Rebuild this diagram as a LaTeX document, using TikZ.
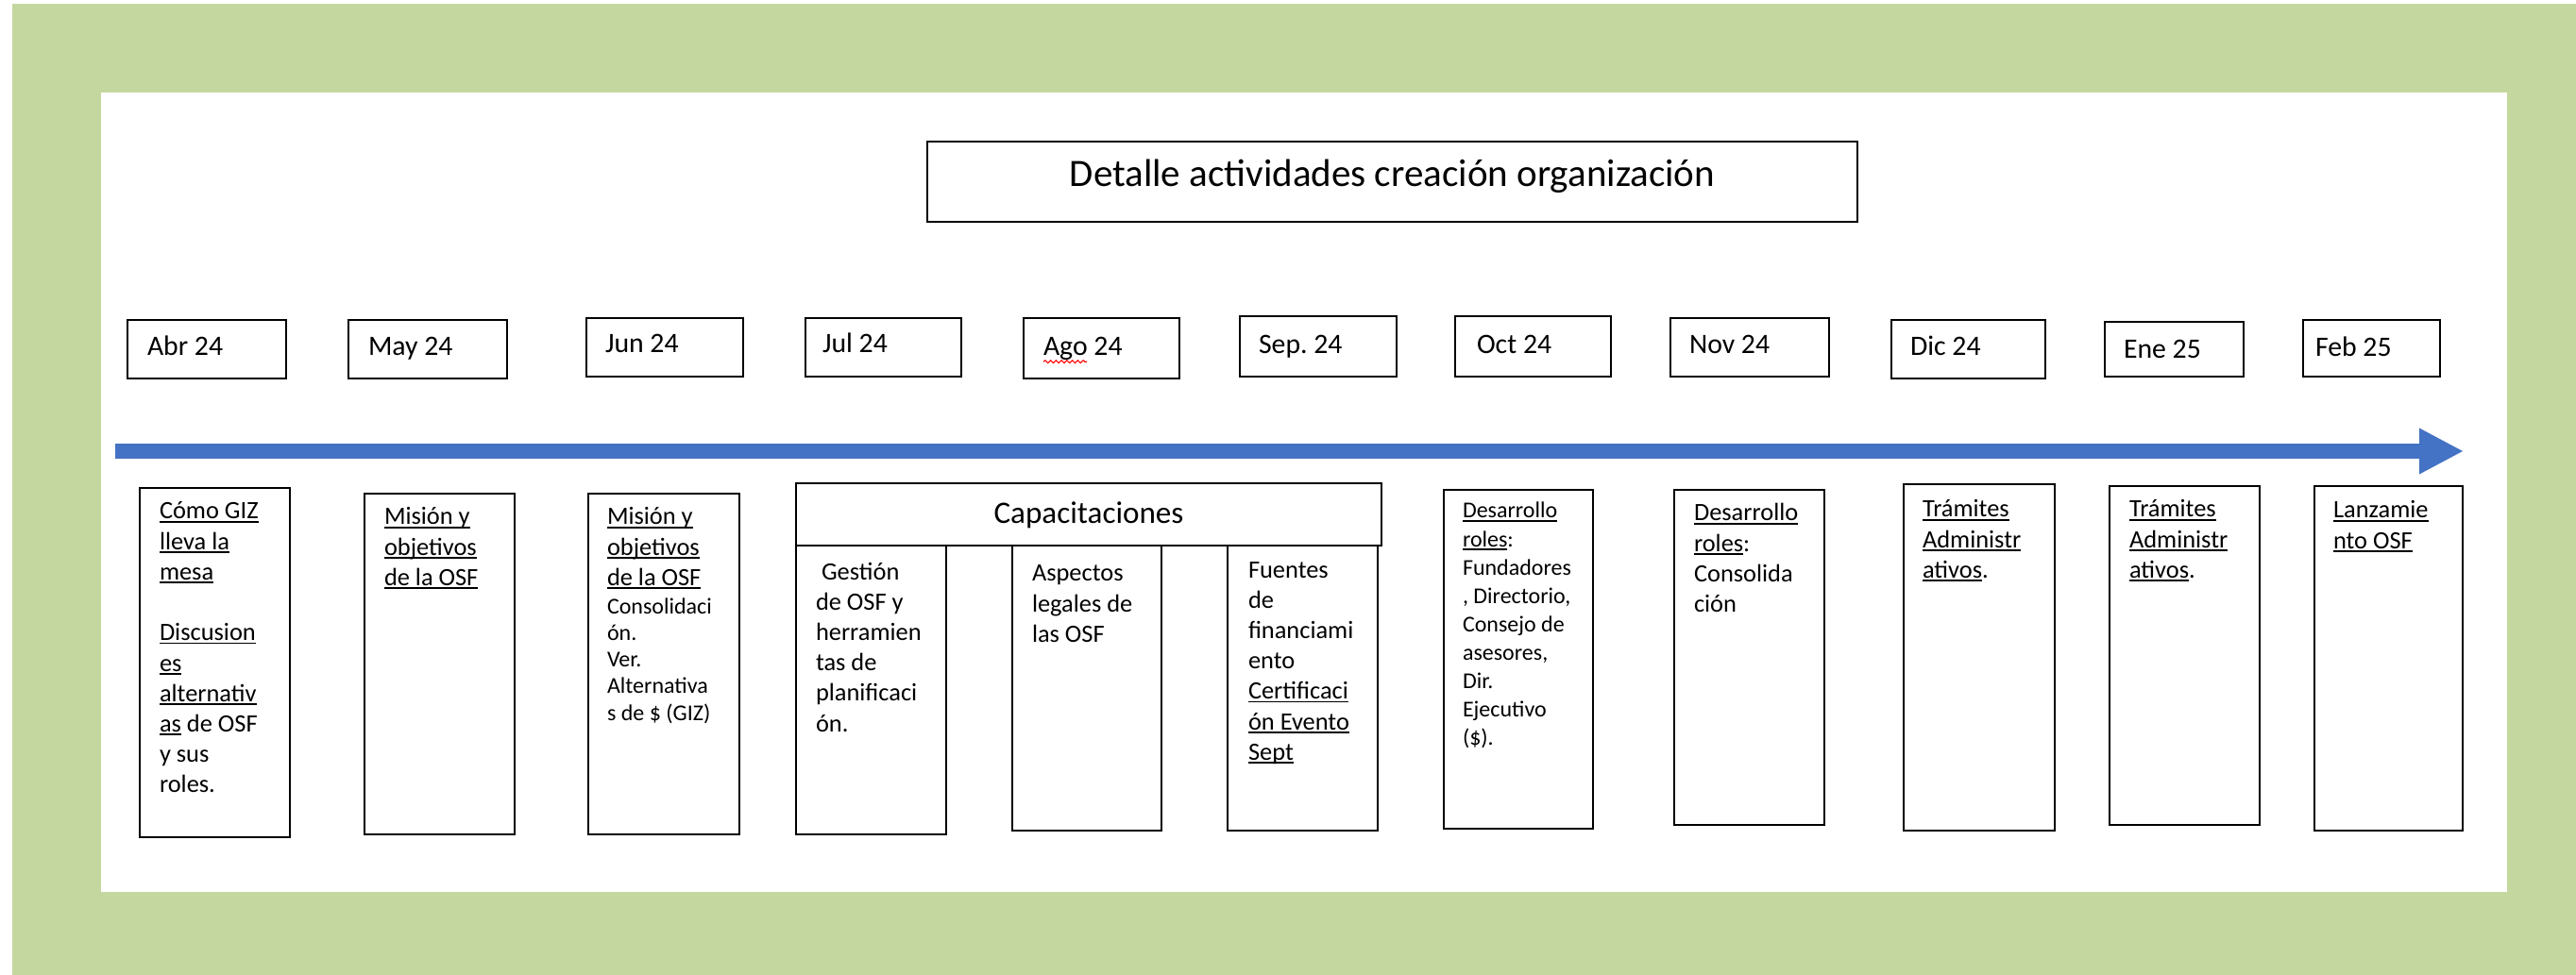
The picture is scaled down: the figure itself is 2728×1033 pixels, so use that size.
\documentclass[tikz,border=0pt]{standalone}
\usepackage{fontspec}
\setmainfont{Carlito}
\usetikzlibrary{arrows.meta,decorations.pathmorphing}
\definecolor{bggreen}{HTML}{C4D79E}
\definecolor{arrowblue}{HTML}{4472C4}
\frenchspacing
\newcommand\pxu{0.41667pt}
\newcommand\undl[1]{\leavevmode\setbox0=\hbox{#1}\rlap{\rule[-1.5pt]{\wd0}{0.7pt}}\box0\relax}
\newcommand\fbody{\fontsize{11}{13.42}\selectfont}
\newcommand\fsmall{\fontsize{10}{11.8}\selectfont}
\newcommand\fdes{\fontsize{10}{12.54}\selectfont}
\newcommand\fmonth{\fontsize{12.4}{15}\selectfont}
\newcommand\fcap{\fontsize{13.8}{16.5}\selectfont}
\newcommand\ftitle{\fontsize{17.1}{20.5}\selectfont}
\newcommand\fl{\leavevmode\rule{0pt}{1em}}
\newcommand\boxnode[5]{\node[boxst, minimum width={(#4-#2)*\pxu}, minimum height={(#5-#3)*\pxu}] (#1) at ({(#2+#4)/2},{(#3+#5)/2}) {};}
\tikzset{
  boxst/.style={draw=black, line width=0.85pt, fill=white, rectangle, inner sep=0pt, outer sep=0pt},
  txt/.style={anchor=north west, inner sep=0pt, outer sep=0pt, align=flush left, text width=62pt},
  mlabel/.style={anchor=base west, inner sep=0pt, outer sep=0pt, font=\fmonth},
}
\begin{document}
\begin{tikzpicture}[x=0.41667pt, y=-0.41667pt]
\useasboundingbox (0,0) rectangle (2728,1033);
\fill[white] (0,0) rectangle (2728,1033);
\fill[bggreen] (13,4) rectangle (2728,1033);
\fill[white] (107,98) rectangle (2655,945);

% title
\boxnode{title}{982}{150}{1967}{235}
\node[font=\ftitle, anchor=base, inner sep=0pt] (titletext) at (1474.5,198) {Detalle actividades creación organización};

% months
\boxnode{mAbr}{135}{339}{303}{401}
\node[mlabel] (lAbr) at (156,377) {Abr 24};
\boxnode{mMay}{369}{339}{537}{401}
\node[mlabel] (lMay) at (390,377) {May 24};
\boxnode{mJun}{621}{337}{787}{399}
\node[mlabel] (lJun) at (641,374) {Jun 24};
\boxnode{mJul}{853}{337}{1018}{399}
\node[mlabel] (lJul) at (871,374) {Jul 24};
\boxnode{mAgo}{1084}{337}{1249}{401}
\node[mlabel] (lAgo) at (1105,377) {Ago 24};
\draw[red, line width=0.45pt, decorate, decoration={snake, amplitude=0.6pt, segment length=2.4pt}] ([yshift=-2.6pt]lAgo.base west) -- ++(46,0);
\boxnode{mSep}{1313}{335}{1479}{399}
\node[mlabel] (lSep) at (1333,375) {Sep. 24};
\boxnode{mOct}{1541}{335}{1706}{399}
\node[mlabel] (lOct) at (1564,375) {Oct 24};
\boxnode{mNov}{1769}{337}{1937}{399}
\node[mlabel] (lNov) at (1789,375) {Nov 24};
\boxnode{mDic}{2003}{339}{2166}{401}
\node[mlabel] (lDic) at (2023,377) {Dic 24};
\boxnode{mEne}{2229}{341}{2376}{399}
\node[mlabel] (lEne) at (2249,380) {Ene 25};
\boxnode{mFeb}{2439}{339}{2584}{399}
\node[mlabel] (lFeb) at (2452,378) {Feb 25};

% timeline arrow
\coordinate (arrS) at (122,478);
\coordinate (arrE) at (2608,478);
\draw[arrowblue, line width=6.667pt, -{Triangle[length=19.17pt, width=20.42pt, line width=0pt]}] (arrS) -- (arrE);

% activity boxes
\boxnode{b1}{148}{517}{307}{887}
\node[txt, font=\fbody] (t1) at (169,550-26.4) {\fl\undl{Cómo GIZ}\\\undl{lleva la}\\\undl{mesa}\\\mbox{}\\\undl{Discusion}\\\undl{es}\\\undl{alternativ}\\\undl{as} de OSF\\y sus\\roles.};

\boxnode{b2}{386}{523}{545}{884}
\node[txt, font=\fbody] (t2) at (407,556-26.4) {\fl\undl{Misión y}\\\undl{objetivos}\\\undl{de la OSF}};

\boxnode{b3}{623}{523}{783}{884}
\node[txt, font=\fbody] (t3a) at (643,556-26.4) {\fl\undl{Misión y}\\\undl{objetivos}\\\undl{de la OSF}};
\node[txt, font=\fsmall] (t3b) at (643,650-24) {\fl Consolidaci\\ón.\\Ver.\\Alternativa\\s de \$ (GIZ)};

\boxnode{capA}{843}{578}{1002}{884}
\boxnode{capB}{1072}{578}{1230}{880}
\boxnode{capC}{1300}{578}{1459}{880}
\boxnode{cap}{843}{512}{1463}{578}
\node[font=\fcap, anchor=base, inner sep=0pt] (captext) at (1153,555) {Capacitaciones};
\node[txt, font=\fbody] (tA) at (864,614-26.4) {\fl\hspace*{0.23em}Gestión\\de OSF y\\herramien\\tas de\\planificaci\\ón.};
\node[txt, font=\fbody] (tB) at (1093,616-26.4) {\fl Aspectos\\legales de\\las OSF};
\node[txt, font=\fbody] (tC) at (1322,612-26.4) {\fl Fuentes\\de\\financiami\\ento\\\undl{Certificaci}\\\undl{ón Evento}\\\undl{Sept}};

\boxnode{b10}{1529}{519}{1687}{878}
\node[txt, font=\fdes] (t10) at (1549,549-24) {\fl\undl{Desarrollo}\\\undl{roles}:\\Fundadores\\, Directorio,\\Consejo de\\asesores,\\Dir.\\Ejecutivo\\(\$).};

\boxnode{b11}{1773}{519}{1932}{874}
\node[txt, font=\fbody] (t11) at (1794,552-26.4) {\fl\undl{Desarrollo}\\\undl{roles}:\\Consolida\\ción};

\boxnode{b12}{2016}{513}{2176}{880}
\node[txt, font=\fbody] (t12) at (2036,548-26.4) {\fl\undl{Trámites}\\\undl{Administr}\\\undl{ativos}.};

\boxnode{b13}{2234}{515}{2393}{874}
\node[txt, font=\fbody] (t13) at (2255,548-26.4) {\fl\undl{Trámites}\\\undl{Administr}\\\undl{ativos}.};

\boxnode{b14}{2451}{515}{2608}{880}
\node[txt, font=\fbody] (t14) at (2471,549-26.4) {\fl\undl{Lanzamie}\\\undl{nto OSF}};
\end{tikzpicture}
\end{document}
